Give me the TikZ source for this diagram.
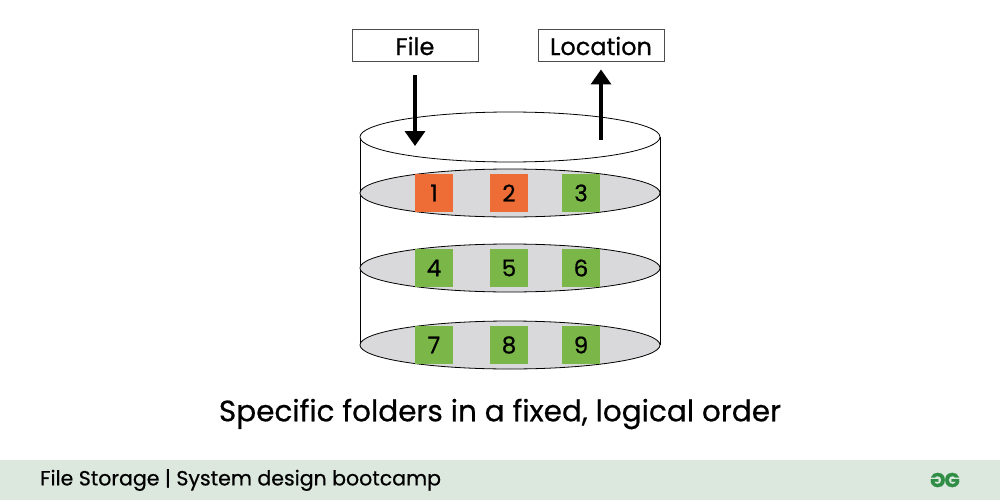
\documentclass[tikz,border=0pt]{standalone}
\usepackage{fontspec}
\setmainfont{Poppins}[FakeBold=1.2,UprightFeatures={FakeBold=0.6}]
\usetikzlibrary{arrows.meta}
\definecolor{gfgorange}{RGB}{238,108,53}
\definecolor{gfggreen}{RGB}{122,182,72}
\definecolor{platter}{RGB}{217,217,219}
\definecolor{footband}{RGB}{220,232,222}
\definecolor{logogreen}{RGB}{47,141,70}
\tikzset{
  label box/.style={draw=black!70, line width=1pt, minimum width=126pt, minimum height=32pt, inner sep=0pt, font=\fontsize{24}{24}\selectfont},
  slot/.style={minimum size=38pt, inner sep=0pt, font=\fontsize{23}{23}\selectfont},
  flow/.style={line width=3.5pt, -{Triangle[width=20pt,length=15pt]}}
}
\begin{document}
\begin{tikzpicture}[x=1pt,y=-1pt]
\useasboundingbox (0,0) rectangle (1000,500);
\fill[white] (0,0) rectangle (1000,500);
% footer band
\fill[footband] (0,460) rectangle (1000,500);
\node[anchor=west, inner sep=0pt, font=\fontsize{20.5}{20.5}\selectfont] (foot) at (40,480) {File Storage | System design bootcamp};
\node[inner sep=0pt, text=logogreen, font=\fontsize{20}{20}\selectfont\bfseries] (logo) at (945,480) {\scalebox{-1}[1]{G}\kern-1pt G};
% cylinder
\draw[line width=0.8pt] (360,137) -- (360,345);
\draw[line width=0.8pt] (660,137) -- (660,345);
\foreach \yy in {193,268,345}
  \draw[line width=0.8pt, fill=platter] (510,\yy) ellipse [x radius=150, y radius=24];
\draw[line width=0.8pt, fill=white] (510,137) ellipse [x radius=150, y radius=25];
% slots
\foreach \n/\xx/\yy/\cc in {1/434/193/gfgorange, 2/509/193/gfgorange, 3/581/193/gfggreen,
                            4/434/268/gfggreen, 5/509/268/gfggreen, 6/581/268/gfggreen,
                            7/434/345/gfggreen, 8/509/345/gfggreen, 9/581/345/gfggreen}
  \node[slot, fill=\cc] (s\n) at (\xx,\yy) {\n};
% labels and arrows
\node[label box] (file) at (415,46) {File};
\node[label box] (loc) at (601,46) {Location};
\coordinate (drop) at (415,146);
\coordinate (lift) at (601,140);
\draw[flow, shorten <=13pt] (file.south) -- (drop);
\draw[flow, shorten >=7pt] (lift) -- (loc.south);
% caption
\node[font=\fontsize{29.5}{29.5}\selectfont] (caption) at (500,414) {Specific folders in a fixed, logical order};
\end{tikzpicture}
\end{document}
